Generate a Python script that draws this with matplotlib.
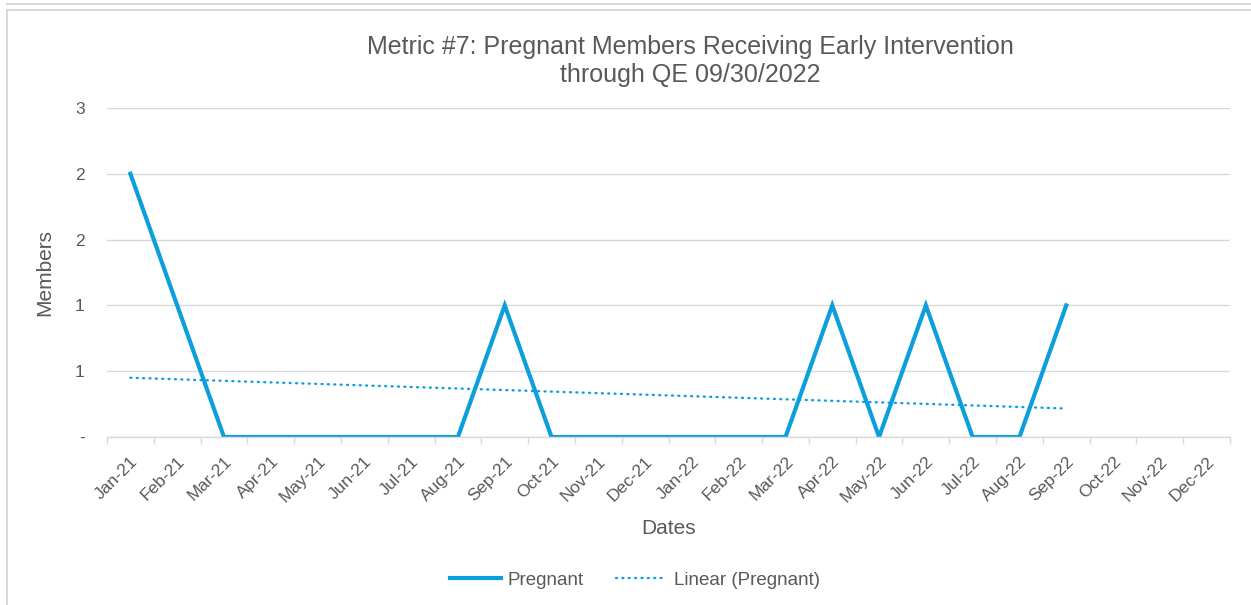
import numpy as np
import matplotlib
matplotlib.use("Agg")
import matplotlib.pyplot as plt
from matplotlib.patches import Rectangle
from matplotlib.lines import Line2D

plt.rcParams['font.family'] = ['Liberation Sans', 'DejaVu Sans']

# categories and values
months = ["Jan-21", "Feb-21", "Mar-21", "Apr-21", "May-21", "Jun-21", "Jul-21", "Aug-21",
          "Sep-21", "Oct-21", "Nov-21", "Dec-21", "Jan-22", "Feb-22", "Mar-22", "Apr-22",
          "May-22", "Jun-22", "Jul-22", "Aug-22", "Sep-22", "Oct-22", "Nov-22", "Dec-22"]
pregnant = [2, 1, 0, 0, 0, 0, 0, 0, 1, 0, 0, 0, 0, 0, 0, 1, 0, 1, 0, 0, 1]
ytick_vals = [0, 0.5, 1, 1.5, 2, 2.5]
ytick_labels = ["-", "1", "1", "2", "2", "3"]

blue = "#0C9EDD"
grey_txt = "#595959"
grid_c = "#D9D9D9"

fig = plt.figure(figsize=(12.51, 6.05), dpi=100)

# chart frame (and the edge of the chart above it)
fig.patches.append(Rectangle((7 / 1251, -0.1), 1.2, (605 - 10) / 605 + 0.1,
                             transform=fig.transFigure, fill=False, ec="#D9D9D9", lw=1.5))
fig.add_artist(Line2D([7 / 1251, 1.0], [1 - 4 / 605, 1 - 4 / 605],
                      transform=fig.transFigure, color="#D9D9D9", lw=1.5))

ax = fig.add_axes([107 / 1251, (605 - 437) / 605, 1123 / 1251, 329 / 605])

x = np.arange(len(pregnant))
ax.plot(x, pregnant, color=blue, lw=3.0, solid_joinstyle="miter", label="Pregnant")

# linear trend line over the data
k, b = np.polyfit(x, pregnant, 1)
ax.plot(x, k * x + b, color=blue, lw=1.7, linestyle=(0, (0.4, 2.3)), dash_capstyle="round",
        label="Linear (Pregnant)")

ax.set_xlim(-0.5, len(months) - 0.5)
ax.set_ylim(0, 2.5)

ax.set_xticks(np.arange(len(months)))
ax.set_xticklabels(months, rotation=45, ha="right", rotation_mode="anchor",
                   fontsize=12.5, color=grey_txt)
ax.set_xticks(np.arange(len(months) + 1) - 0.5, minor=True)
ax.tick_params(axis="x", which="major", length=0, pad=12)
ax.tick_params(axis="x", which="minor", length=5, color=grid_c, width=1)

ax.set_yticks(ytick_vals)
ax.set_yticklabels(ytick_labels, fontsize=12.5, color=grey_txt)
ax.tick_params(axis="y", length=0, pad=16)

ax.grid(axis="y", color=grid_c, lw=1)
ax.set_axisbelow(True)
for s in ["top", "right", "left"]:
    ax.spines[s].set_visible(False)
ax.spines["bottom"].set_color(grid_c)
ax.spines["bottom"].set_linewidth(1)

ax.set_xlabel("Dates", fontsize=15, color=grey_txt, va="center")
ax.xaxis.set_label_coords(0.5, (437 - 528) / 329)
ax.set_ylabel("Members", fontsize=15, color=grey_txt, va="center")
ax.yaxis.set_label_coords((45 - 107) / 1123, 0.5)

fig.text(690 / 1251, 1 - 61 / 605, "Metric #7: Pregnant Members Receiving Early Intervention\nthrough QE 09/30/2022",
         ha="center", va="center", fontsize=18, color=grey_txt, linespacing=1.2)

fig.legend(loc="center", bbox_to_anchor=(635 / 1251, 1 - 580 / 605), ncol=2, frameon=False,
           fontsize=13.5, labelcolor=grey_txt, handlelength=2.7, handletextpad=0.35, columnspacing=1.75)

fig.savefig("out.png", dpi=100)
